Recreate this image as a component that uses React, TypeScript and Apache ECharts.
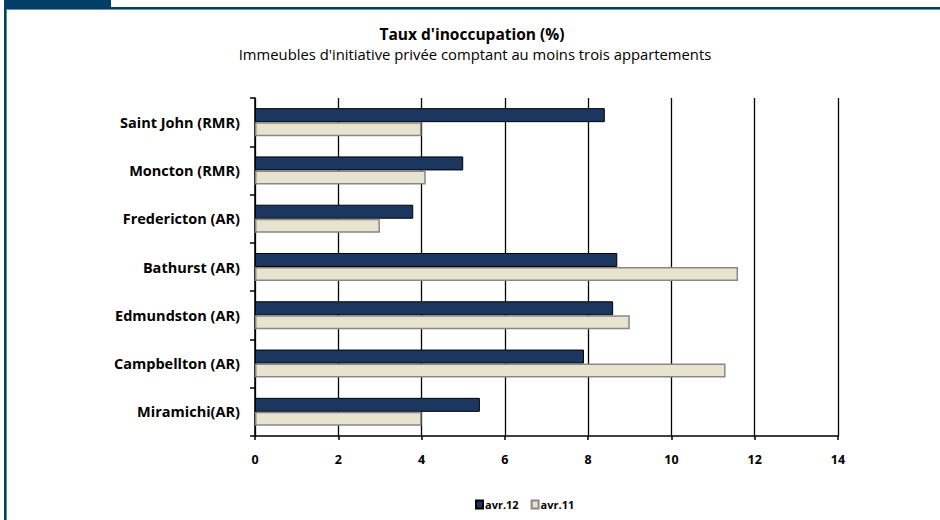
import React, { useEffect, useRef } from "react";
import * as echarts from "echarts";

const categories = [
  "Saint John (RMR)",
  "Moncton (RMR)",
  "Fredericton (AR)",
  "Bathurst (AR)",
  "Edmundston (AR)",
  "Campbellton (AR)",
  "Miramichi(AR)",
];
const avr12 = [8.4, 5.0, 3.8, 8.7, 8.6, 7.9, 5.4];
const avr11 = [4.0, 4.1, 3.0, 11.6, 9.0, 11.3, 4.0];
const seriesNames = ["avr.12", "avr.11"];
const titleText = "Taux d'inoccupation (%)";
const subtitleText = "Immeubles d'initiative privée comptant au moins trois appartements";

const FONT = "'Open Sans', Lato, sans-serif";

export default function App() {
  const ref = useRef<HTMLDivElement>(null);
  useEffect(() => {
    if (!ref.current) return;
    const chart = echarts.init(ref.current, null, { renderer: "svg" });
    chart.setOption({
      animation: false,
      backgroundColor: "#ffffff",
      textStyle: { fontFamily: FONT },
      title: [
        {
          text: titleText,
          left: 472,
          textAlign: "center",
          top: 26,
          padding: 0,
          textStyle: { fontFamily: FONT, fontWeight: "bold", fontSize: 15.5, lineHeight: 16, color: "#000" },
        },
        {
          text: subtitleText,
          left: 475,
          textAlign: "center",
          top: 46.5,
          padding: 0,
          textStyle: { fontFamily: FONT, fontWeight: "normal", fontSize: 14.8, lineHeight: 15, color: "#000" },
        },
      ],
      graphic: [
        { type: "rect", shape: { x: 4, y: 0, width: 107, height: 8 }, style: { fill: "#003f66" } },
        { type: "rect", shape: { x: 4, y: 7, width: 936, height: 2 }, style: { fill: "#003f66" } },
        { type: "rect", shape: { x: 4, y: 9, width: 936, height: 0.8 }, style: { fill: "#3b6e8f" } },
        { type: "rect", shape: { x: 4, y: 7, width: 2, height: 513 }, style: { fill: "#003f66" } },
        { type: "rect", shape: { x: 6, y: 9, width: 0.8, height: 511 }, style: { fill: "#3b6e8f" } },
      ],
      legend: {
        data: seriesNames,
        left: 475,
        top: 499,
        padding: 0,
        itemWidth: 7,
        itemHeight: 8,
        itemGap: 12,
        icon: "rect",
        textStyle: { fontFamily: FONT, fontWeight: "bold", fontSize: 11, color: "#000", padding: [0, 0, 0, -3] },
      },
      grid: { left: 255, right: 102, top: 98, bottom: 84, containLabel: false },
      xAxis: {
        type: "value",
        min: 0,
        max: 14,
        interval: 2,
        axisLine: { show: true, lineStyle: { color: "#000", width: 1.5 } },
        axisTick: { show: true, length: 4, lineStyle: { color: "#000", width: 1.5 } },
        splitLine: { show: true, lineStyle: { color: "#000", width: 1.3 } },
        axisLabel: { fontFamily: FONT, fontWeight: "bold", fontSize: 12.5, color: "#000", margin: 17 },
      },
      yAxis: {
        type: "category",
        data: categories,
        inverse: true,
        axisLine: { show: true, lineStyle: { color: "#000", width: 1.5 } },
        axisTick: { show: true, length: 5, alignWithLabel: false, lineStyle: { color: "#000", width: 1.5 } },
        splitLine: { show: false },
        axisLabel: { fontFamily: FONT, fontWeight: "bold", fontSize: 14.5, color: "#000", margin: 15 },
      },
      series: [
        {
          name: seriesNames[0],
          type: "bar",
          data: avr12,
          barWidth: 14,
          barGap: "0%",
          itemStyle: { color: "#1b365f", borderColor: "#000", borderWidth: 1 },
        },
        {
          name: seriesNames[1],
          type: "bar",
          data: avr11,
          barWidth: 14,
          barGap: "0%",
          itemStyle: { color: "#e8e3cf", borderColor: "#888", borderWidth: 1.5 },
        },
      ],
    });
    return () => chart.dispose();
  }, []);
  return (
    <div
      ref={ref}
      style={{ position: "fixed", left: 0, top: 0, width: 940, height: 520 }}
    />
  );
}
